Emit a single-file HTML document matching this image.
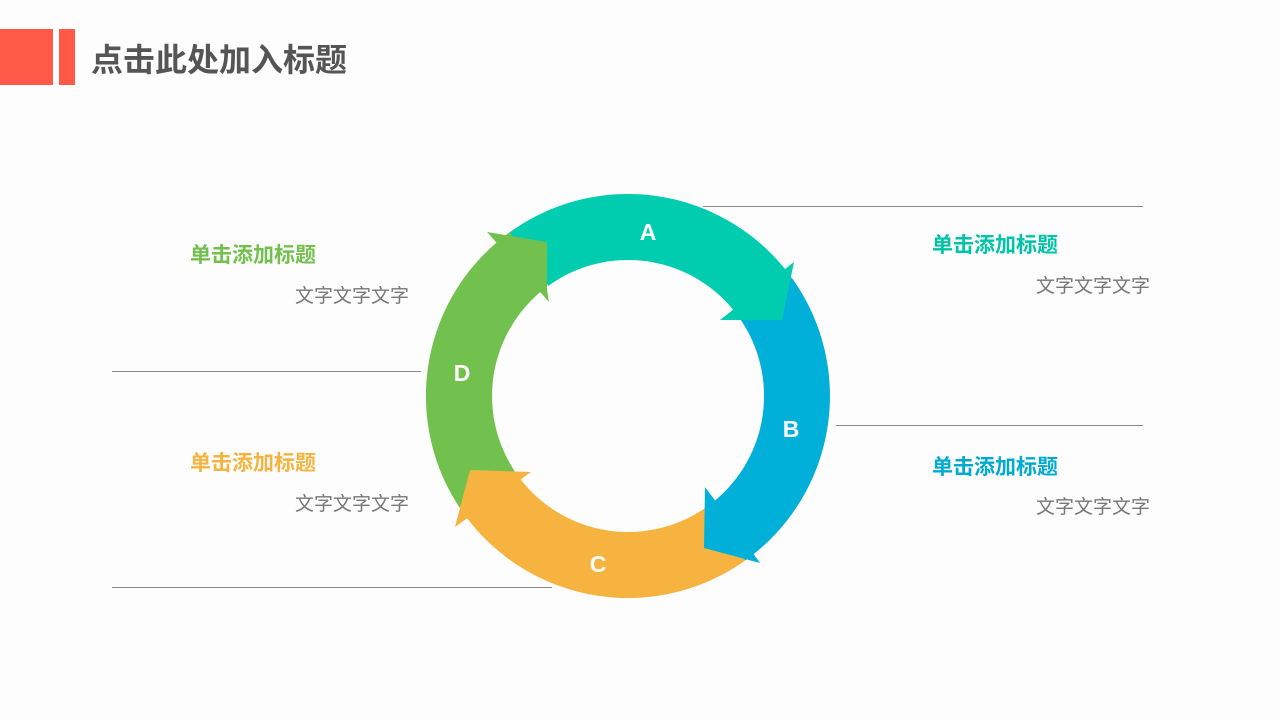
<!DOCTYPE html>
<html><head><meta charset="utf-8"><style>
html,body{margin:0;padding:0;}
body{width:1280px;height:720px;background:#fdfdfd;position:relative;overflow:hidden;font-family:"Liberation Sans","Noto Sans CJK SC",sans-serif;}
.abs{position:absolute;white-space:nowrap;}
.t{font-weight:bold;font-size:21px;line-height:24px;}
.s{font-size:19px;color:#777;line-height:20px;}
</style></head><body>
<div class="abs" style="left:0;top:29px;width:53px;height:56px;background:#ff5a47"></div>
<div class="abs" style="left:59px;top:29px;width:16px;height:56px;background:#ff5a47"></div>
<div class="abs" style="left:91px;top:40px;font-size:32px;line-height:40px;font-weight:bold;color:#555">点击此处加入标题</div>

<svg class="abs" style="left:0;top:0" width="1280" height="720">
<defs>
<path id="ring" fill-rule="evenodd" d="M628,194 A202,202 0 1,1 627.9,194 Z M628,260 A136,136 0 1,0 628.1,260 Z"/>
<clipPath id="wA"><polygon points="628,396 452,153 628,96 778,136 871,220"/></clipPath>
<clipPath id="hA"><polygon points="0,0 848,0 699,720 0,720"/></clipPath>
<clipPath id="wB"><polygon points="628,396 871,220 928,396 888,546 802,640"/></clipPath>
<clipPath id="hB"><polygon points="704,0 1280,0 1280,720 704,720"/></clipPath>
<clipPath id="wC"><polygon points="628,396 802,640 628,696 478,656 378,561"/></clipPath>
<clipPath id="hC"><polygon points="604,0 1280,0 1280,720 399,720"/></clipPath>
<clipPath id="wD"><polygon points="628,396 378,561 328,396 368,246 452,153"/></clipPath>
<clipPath id="hD"><polygon points="0,0 547,0 547,720 0,720"/></clipPath>
</defs>
<g stroke="#8a8a8a" stroke-width="1">
<line x1="703" y1="206.5" x2="1143" y2="206.5"/>
<line x1="836" y1="425.5" x2="1143" y2="425.5"/>
<line x1="112" y1="371.5" x2="421" y2="371.5"/>
<line x1="112" y1="587.5" x2="552" y2="587.5"/>
</g>
<g clip-path="url(#wA)"><use href="#ring" fill="#00cdb0" clip-path="url(#hA)"/></g>
<g clip-path="url(#wB)"><use href="#ring" fill="#00b0d8" clip-path="url(#hB)"/></g>
<g clip-path="url(#wC)"><use href="#ring" fill="#f6b33f" clip-path="url(#hC)"/></g>
<g clip-path="url(#wD)"><use href="#ring" fill="#72c04d" clip-path="url(#hD)"/></g>
<polygon points="794,262 720,320 782,320" fill="#00cdb0"/>
<polygon points="705,487 720,507 760,563 704,548" fill="#00b0d8"/>
<polygon points="455,527 531,472 470,470" fill="#f6b33f"/>
<polygon points="487,232 547,242 547,290 549,302" fill="#72c04d"/>
<g fill="#fff" font-family="Liberation Sans, sans-serif" font-weight="bold" font-size="23" text-anchor="middle">
<text x="648" y="240">A</text>
<text x="791" y="437">B</text>
<text x="598" y="572">C</text>
<text x="462" y="381">D</text>
</g>
</svg>

<div class="abs t" style="left:190px;top:244px;color:#72c04d">单击添加标题</div>
<div class="abs s" style="left:295px;top:287px">文字文字文字</div>
<div class="abs t" style="left:190px;top:452px;color:#f6b33f">单击添加标题</div>
<div class="abs s" style="left:295px;top:495px">文字文字文字</div>
<div class="abs t" style="left:932px;top:234px;color:#00c4a8">单击添加标题</div>
<div class="abs s" style="left:1036px;top:277px">文字文字文字</div>
<div class="abs t" style="left:932px;top:456px;color:#00aad2">单击添加标题</div>
<div class="abs s" style="left:1036px;top:498px">文字文字文字</div>
</body></html>
